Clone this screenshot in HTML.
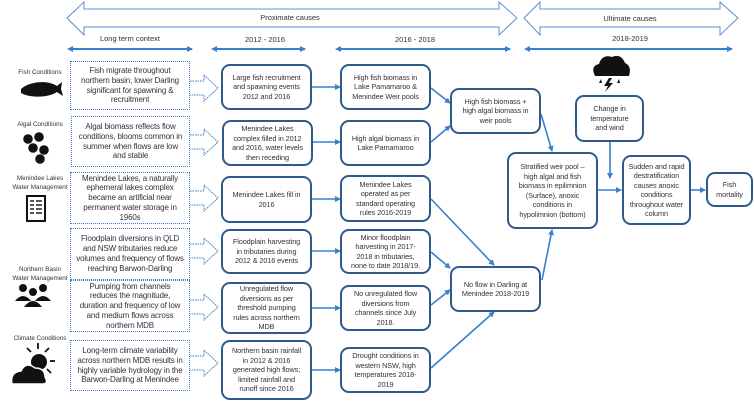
<!DOCTYPE html>
<html><head><meta charset="utf-8"><style>
*{margin:0;padding:0;box-sizing:border-box}
body{width:754px;height:402px;background:#fff;position:relative;overflow:hidden;font-family:"Liberation Sans",sans-serif;color:#333}
.b{position:absolute;border:2px solid #2f5b8c;border-radius:9px;display:flex;align-items:center;justify-content:center;text-align:center;font-size:7.3px;line-height:9.5px;background:#fff;padding:0 7px;letter-spacing:-0.1px}
.d{position:absolute;border:1.3px dotted #3a78c0;display:flex;align-items:center;justify-content:center;text-align:center;font-size:8px;line-height:9.8px;padding:0 5px;background:#fff;letter-spacing:-0.15px}
.t{position:absolute;font-size:7.5px;text-align:center;color:#333}
.l{position:absolute;font-size:6.3px;text-align:center;color:#333;line-height:8.5px}
svg{position:absolute;left:0;top:0}
</style></head><body>
<svg width="754" height="402">
<defs><marker id="a" markerWidth="6" markerHeight="6" refX="5" refY="3" orient="auto" markerUnits="userSpaceOnUse"><path d="M0,0 L6,3 L0,6z" fill="#3a7fd0"/></marker>
<marker id="s" markerWidth="6" markerHeight="6" refX="1" refY="3" orient="auto-start-reverse" markerUnits="userSpaceOnUse"><path d="M0,0 L6,3 L0,6z" fill="#3a7fd0"/></marker></defs>
<path d="M67,18 L84,2 L84,9 L499,9 L499,2 L517,18 L499,35 L499,27 L84,27 L84,35Z" fill="#fff" stroke="#5b8fd0" stroke-width="1"/>
<path d="M524,18 L540,2 L540,9 L720,9 L720,2 L738,18 L720,35 L720,27 L540,27 L540,35Z" fill="#fff" stroke="#5b8fd0" stroke-width="1"/>
<g stroke="#3a7fd0" stroke-width="2" fill="none">
<line x1="72" y1="49" x2="192" y2="49" marker-start="url(#s)" marker-end="url(#a)"/>
<line x1="216" y1="49" x2="305" y2="49" marker-start="url(#s)" marker-end="url(#a)"/>
<line x1="340" y1="49" x2="510" y2="49" marker-start="url(#s)" marker-end="url(#a)"/>
<line x1="529" y1="49" x2="732" y2="49" marker-start="url(#s)" marker-end="url(#a)"/>
</g>
<g stroke="#3a7fd0" stroke-width="1.6" fill="none" marker-end="url(#a)">
<line x1="312" y1="87" x2="340" y2="87"/>
<line x1="312" y1="142" x2="340" y2="142"/>
<line x1="312" y1="199" x2="340" y2="199"/>
<line x1="312" y1="251" x2="340" y2="251"/>
<line x1="312" y1="308" x2="340" y2="308"/>
<line x1="312" y1="370" x2="340" y2="370"/>
<line x1="431" y1="88" x2="450" y2="103"/>
<line x1="431" y1="142" x2="450" y2="126"/>
<line x1="431" y1="199" x2="494" y2="265"/>
<line x1="431" y1="252" x2="450" y2="268"/>
<line x1="431" y1="305" x2="450" y2="290"/>
<line x1="431" y1="368" x2="494" y2="312"/>
<line x1="541" y1="114" x2="552" y2="151"/>
<line x1="542" y1="280" x2="552" y2="230"/>
<line x1="610" y1="141" x2="610" y2="178"/>
<line x1="598" y1="190" x2="621" y2="190"/>
<line x1="690" y1="190" x2="705" y2="190"/>
</g>
<g stroke="#3a78c0" stroke-width="1" stroke-dasharray="1.5,1" fill="#fff">
<path d="M190,81 L204,81 L204,75 L218,88 L204,101 L204,95 L190,95"/>
<path d="M190,135 L204,135 L204,129 L218,142 L204,155 L204,149 L190,149"/>
<path d="M190,191 L204,191 L204,185 L218,198 L204,211 L204,205 L190,205"/>
<path d="M190,244 L204,244 L204,238 L218,251 L204,264 L204,258 L190,258"/>
<path d="M190,300 L204,300 L204,294 L218,307 L204,320 L204,314 L190,314"/>
<path d="M190,356 L204,356 L204,350 L218,363 L204,376 L204,370 L190,370"/>
</g>
<path d="M21,89 C30,81 48,80 57,86 L62,82 L61,89 L63,96 L57,92 C48,98 30,98 21,93Z" fill="#111"/>
<g fill="#111"><circle cx="28" cy="139" r="4.8"/><circle cx="39" cy="137" r="4.8"/><circle cx="33" cy="148" r="4.8"/><circle cx="44" cy="150" r="4.8"/><circle cx="40" cy="159" r="4.8"/></g>
<rect x="27" y="196" width="18" height="25" fill="#fff" stroke="#111" stroke-width="2"/>
<g stroke="#111" stroke-width="1.4"><line x1="36" y1="201" x2="42" y2="201"/><line x1="36" y1="205" x2="42" y2="205"/><line x1="36" y1="209" x2="42" y2="209"/><line x1="36" y1="213" x2="42" y2="213"/><line x1="30" y1="201" x2="34" y2="201"/><line x1="30" y1="205" x2="34" y2="205"/><line x1="30" y1="209" x2="34" y2="209"/><line x1="30" y1="213" x2="34" y2="213"/></g>
<g fill="#111"><circle cx="23" cy="288" r="4"/><circle cx="43" cy="288" r="4"/><circle cx="33" cy="292" r="4"/>
<path d="M15,301 Q23,291 31,301Z"/><path d="M35,301 Q43,291 51,301Z"/><path d="M24,307 Q33,295 42,307Z"/></g>
<g stroke="#111" stroke-width="1.8"><line x1="38" y1="343" x2="38" y2="349"/><line x1="27" y1="348" x2="31" y2="352"/><line x1="49" y1="348" x2="45" y2="352"/><line x1="50" y1="361" x2="55" y2="361"/><line x1="47" y1="369" x2="51" y2="373"/></g>
<circle cx="39" cy="362" r="8" fill="#111"/>
<path d="M12,384 Q10,372 21,371 Q26,361 35,368 Q45,368 45,377 Q49,384 42,384Z" fill="#111" stroke="#fff" stroke-width="1.4"/>
<path d="M595,76 Q590,66 599,64 Q602,54 612,57 Q621,53 625,63 Q632,66 629,76Z" fill="#111"/>
<g fill="#111"><path d="M609,78 L604,86 L608,86 L605,92 L613,83 L609,83 L612,78Z"/><path d="M601,79 L599,83 L602,83Z"/><path d="M619,79 L617,83 L620,83Z"/></g>
</svg>
<div class="t" style="left:230px;top:13px;width:120px">Proximate causes</div>
<div class="t" style="left:580px;top:14px;width:100px">Ultimate causes</div>
<div class="t" style="left:80px;top:34px;width:100px">Long term context</div>
<div class="t" style="left:220px;top:35px;width:90px">2012 - 2016</div>
<div class="t" style="left:370px;top:35px;width:90px">2016 - 2018</div>
<div class="t" style="left:580px;top:34px;width:100px">2018-2019</div>
<div class="l" style="left:0;top:69px;width:80px">Fish Conditions</div>
<div class="l" style="left:0;top:121px;width:80px">Algal Conditions</div>
<div class="l" style="left:0;top:175px;width:80px">Menindee Lakes<br>Water Management</div>
<div class="l" style="left:0;top:266px;width:80px">Northern Basin<br>Water Management</div>
<div class="l" style="left:0;top:335px;width:80px">Climate Conditions</div>
<div class="d" style="left:70px;top:61px;width:120px;height:49px">Fish migrate throughout northern basin, lower Darling significant for spawning &amp; recruitment</div>
<div class="d" style="left:71px;top:116px;width:119px;height:51px">Algal biomass reflects flow conditions, blooms common in summer when flows are low and stable</div>
<div class="d" style="left:70px;top:172px;width:120px;height:52px">Menindee Lakes, a naturally ephemeral lakes complex became an artificial near permanent water storage in 1960s</div>
<div class="d" style="left:70px;top:228px;width:120px;height:52px">Floodplain diversions in QLD and NSW tributaries reduce volumes and frequency of flows reaching Barwon-Darling</div>
<div class="d" style="left:70px;top:280px;width:120px;height:52px">Pumping from channels reduces the magnitude, duration and frequency of low and medium flows across northern MDB</div>
<div class="d" style="left:70px;top:340px;width:120px;height:51px">Long-term climate variability across northern MDB results in highly variable hydrology in the Barwon-Darling at Menindee</div>
<div class="b" style="left:221px;top:64px;width:91px;height:46px">Large fish recruitment and spawning events 2012 and 2016</div>
<div class="b" style="left:222px;top:120px;width:91px;height:46px">Menindee Lakes complex filled in 2012 and 2016, water levels then receding</div>
<div class="b" style="left:221px;top:176px;width:91px;height:47px">Menindee Lakes fill in 2016</div>
<div class="b" style="left:221px;top:229px;width:91px;height:45px">Floodplain harvesting in tributaries during 2012 &amp; 2016 events</div>
<div class="b" style="left:221px;top:282px;width:91px;height:52px">Unregulated flow diversions as per threshold pumping rules across northern MDB</div>
<div class="b" style="left:221px;top:340px;width:91px;height:60px">Northern basin rainfall in 2012 &amp; 2016 generated high flows; limited rainfall and runoff since 2016</div>
<div class="b" style="left:340px;top:64px;width:91px;height:46px">High fish biomass in Lake Pamamaroo &amp; Menindee Weir pools</div>
<div class="b" style="left:340px;top:120px;width:91px;height:46px">High algal biomass in Lake Pamamaroo</div>
<div class="b" style="left:340px;top:175px;width:91px;height:47px">Menindee Lakes operated as per standard operating rules 2016-2019</div>
<div class="b" style="left:340px;top:229px;width:91px;height:45px">Minor floodplain harvesting in 2017-2018 in tributaries, none to date 2018/19.</div>
<div class="b" style="left:340px;top:285px;width:91px;height:46px">No unregulated flow diversions from channels since July 2018.</div>
<div class="b" style="left:340px;top:347px;width:91px;height:46px">Drought conditions in western NSW, high temperatures 2018-2019</div>
<div class="b" style="left:450px;top:88px;width:91px;height:46px">High fish biomass + high algal biomass in weir pools</div>
<div class="b" style="left:450px;top:266px;width:91px;height:46px">No flow in Darling at Menindee 2018-2019</div>
<div class="b" style="left:507px;top:152px;width:91px;height:77px">Stratified weir pool – high algal and fish biomass in epilimnion (Surface), anoxic conditions in hypolimnion (bottom)</div>
<div class="b" style="left:575px;top:95px;width:69px;height:47px">Change in temperature and wind</div>
<div class="b" style="left:622px;top:155px;width:69px;height:70px;padding:0 4px">Sudden and rapid destratification causes anoxic conditions throughout water column</div>
<div class="b" style="left:706px;top:172px;width:47px;height:35px;padding:0 2px">Fish mortality</div>
</body></html>
